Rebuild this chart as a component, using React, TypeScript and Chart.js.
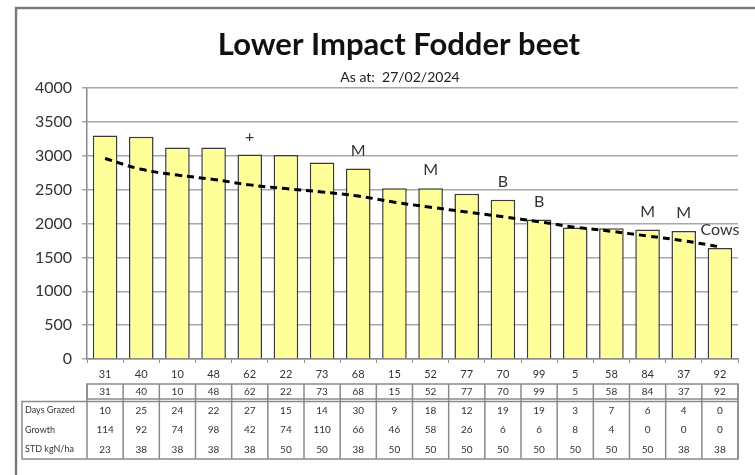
import React, { useEffect, useRef } from "react";
import { Chart, registerables } from "chart.js";

Chart.register(...registerables);

const titleText = "Lower Impact Fodder beet";
const subtitleText = "As at:  27/02/2024";

const categories = ["31", "40", "10", "48", "62", "22", "73", "68", "15", "52", "77", "70", "99", "5", "58", "84", "37", "92"];
const coverValues = [3300, 3280, 3120, 3120, 3020, 3010, 2900, 2810, 2520, 2520, 2440, 2350, 2060, 1940, 1930, 1910, 1890, 1640];
const trendValues = [2960, 2800, 2715, 2650, 2570, 2515, 2465, 2405, 2315, 2240, 2170, 2100, 2025, 1945, 1885, 1815, 1745, 1655];
const barNotes = ["", "", "", "", "+", "", "", "M", "", "M", "", "B", "B", "", "", "M", "M", "Cows"];

const tableRowLabels = ["Days Grazed", "Growth", "STD kgN/ha"];
const daysGrazed = [10, 25, 24, 22, 27, 15, 14, 30, 9, 18, 12, 19, 19, 3, 7, 6, 4, 0];
const growth = [114, 92, 74, 98, 42, 74, 110, 66, 46, 58, 26, 6, 6, 8, 4, 0, 0, 0];
const stdKgN = [23, 38, 38, 38, 38, 50, 50, 38, 50, 50, 50, 50, 50, 50, 50, 50, 38, 38];

const yMin = 0;
const yMax = 4000;
const yStep = 500;

const FONT = "Lato, 'Open Sans', sans-serif";

const decorPlugin = {
  id: "decor",
  afterDraw(chart: any) {
    const ctx = chart.ctx as CanvasRenderingContext2D;
    const xs = chart.scales.x;
    const area = chart.chartArea;
    ctx.save();

    // frame (top & left)
    ctx.strokeStyle = "#7a7a7a";
    ctx.lineWidth = 2.5;
    ctx.beginPath();
    ctx.moveTo(755, 8);
    ctx.lineTo(16, 8);
    ctx.lineTo(16, 475);
    ctx.stroke();

    // title
    ctx.fillStyle = "#111";
    ctx.textAlign = "center";
    ctx.textBaseline = "alphabetic";
    ctx.font = `bold 31px ${FONT}`;
    ctx.fillText(titleText, 399, 55);
    ctx.font = `14px ${FONT}`;
    ctx.fillStyle = "#222";
    ctx.fillText(subtitleText, 400, 82);

    // notes above bars
    ctx.textBaseline = "middle";
    const barMeta = chart.getDatasetMeta(1);
    ctx.font = `16px ${FONT}`;
    ctx.fillStyle = "#333";
    barMeta.data.forEach((el: any, i: number) => {
      const t = barNotes[i];
      if (!t) return;
      ctx.fillText(t, el.x, el.y - 18);
    });

    // table
    const n = categories.length;
    const colW = (area.right - area.left) / n;
    const left = area.left;
    const right = area.right;
    const rTop = 384;
    const rBot = 399;
    const dTop = 401.5;
    const dBot = 459;
    const hdrLeft = 22;
    ctx.strokeStyle = "#8a8a8a";
    ctx.lineWidth = 1.5;
    ctx.strokeRect(left, rTop, right - left, rBot - rTop);
    ctx.strokeRect(hdrLeft, dTop, right - hdrLeft, dBot - dTop);
    ctx.beginPath();
    for (let i = 0; i <= n; i++) {
      const x = left + i * colW;
      ctx.moveTo(x, rTop);
      ctx.lineTo(x, dBot);
    }
    ctx.stroke();

    ctx.fillStyle = "#333";
    ctx.font = `10px ${FONT}`;
    ctx.textAlign = "center";
    const rowsY = [410.5, 430, 449.5];
    const rows = [daysGrazed, growth, stdKgN];
    for (let i = 0; i < n; i++) {
      const cx = xs.getPixelForValue(i);
      ctx.fillText(categories[i], cx, (rTop + rBot) / 2);
      rows.forEach((r, k) => ctx.fillText(String(r[i]), cx, rowsY[k]));
    }
    ctx.textAlign = "left";
    ctx.font = `9px ${FONT}`;
    tableRowLabels.forEach((lab, k) => ctx.fillText(lab, hdrLeft + 3, rowsY[k]));

    ctx.restore();
  },
};

export default function App() {
  const ref = useRef<HTMLCanvasElement | null>(null);
  useEffect(() => {
    if (!ref.current) return;
    const chart = new Chart(ref.current, {
      type: "bar",
      data: {
        labels: categories,
        datasets: [
          {
            type: "line",
            label: "Trend",
            data: trendValues,
            borderColor: "#000",
            borderWidth: 3,
            borderDash: [7, 5],
            pointRadius: 0,
            tension: 0.4,
            fill: false,
            order: 0,
          } as any,
          {
            type: "bar",
            label: "Cover",
            data: coverValues,
            backgroundColor: "#FFFF99",
            borderColor: "#3a3a3a",
            borderWidth: 1.5,
            categoryPercentage: 1,
            barPercentage: 0.68,
            order: 1,
          } as any,
        ],
      },
      options: {
        responsive: false,
        animation: false,
        events: [],
        layout: { padding: { top: 88, right: 17, left: 0, bottom: 0 } },
        plugins: {
          legend: { display: false },
          tooltip: { enabled: false },
          title: { display: false },
        },
        scales: {
          x: {
            offset: true,
            afterFit: (s: any) => {
              s.height = 116;
            },
            grid: { display: true, drawOnChartArea: false, tickLength: 4, color: "#8a8a8a", lineWidth: 1 },
            border: { display: true, color: "#8a8a8a", width: 1.5 },
            ticks: { color: "#333", font: { family: FONT, size: 11 }, padding: 5, maxRotation: 0, autoSkip: false },
          },
          y: {
            min: yMin,
            max: yMax,
            afterFit: (s: any) => {
              s.width = 87;
            },
            grid: { color: "#a8a8a8", lineWidth: 1.5, tickLength: 5 },
            border: { display: true, color: "#8a8a8a", width: 1.5 },
            ticks: {
              stepSize: yStep,
              color: "#333",
              font: { family: FONT, size: 16 },
              padding: 10,
              callback: (v: any) => String(v),
            },
          },
        },
      },
      plugins: [decorPlugin],
    });
    return () => chart.destroy();
  }, []);

  return (
    <div style={{ position: "absolute", left: 0, top: 0, width: 755, height: 475, background: "#fff" }}>
      <canvas ref={ref} width={755} height={475} style={{ display: "block" }} />
    </div>
  );
}
